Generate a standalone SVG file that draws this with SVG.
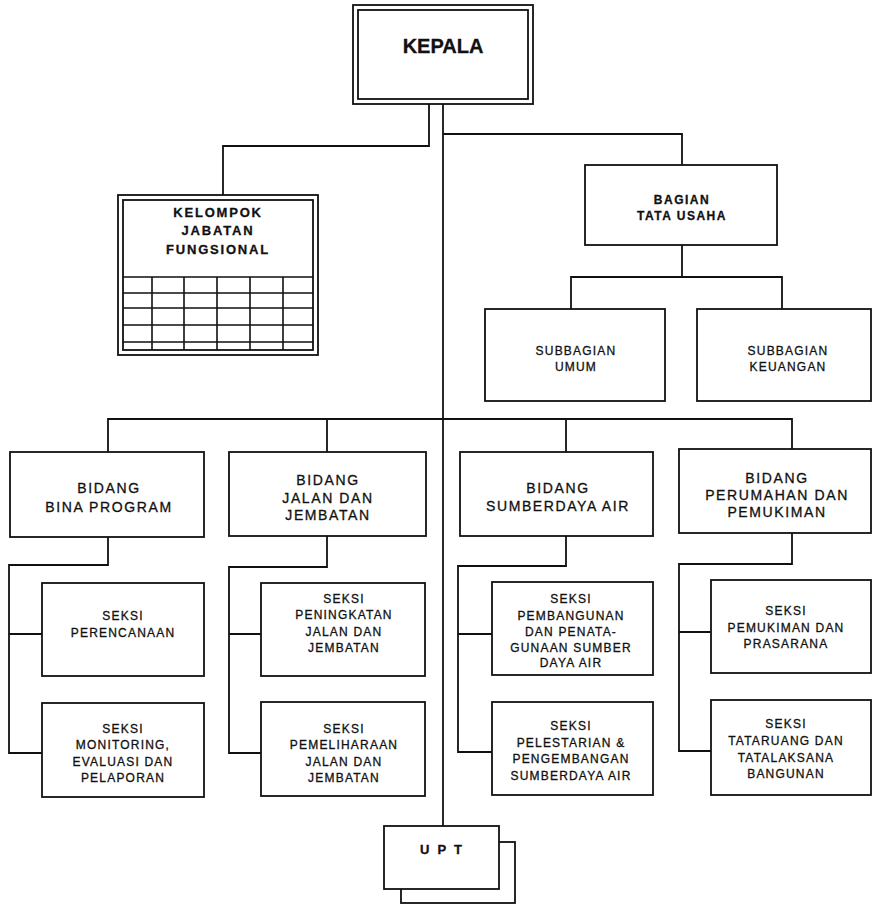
<svg xmlns="http://www.w3.org/2000/svg" width="872" height="904" viewBox="0 0 872 904">
<style>
  .box { fill: #fff; stroke: #111; stroke-width: 1.8; }
  .ln { fill: none; stroke: #111; stroke-width: 1.8; }
  .grid { fill: none; stroke: #111; stroke-width: 1.6; }
  text { font-family: "Liberation Sans", Arial, sans-serif; fill: #111; stroke: #111; stroke-width: 0.3; text-anchor: middle; }
  .k { font-size: 20px; font-weight: bold; }
  .kf { font-size: 13px; font-weight: bold; letter-spacing: 1.8px; }
  .bg { font-size: 12px; font-weight: bold; letter-spacing: 1.5px; }
  .sb { font-size: 12px; letter-spacing: 1.2px; }
  .bd { font-size: 14px; letter-spacing: 1.6px; }
  .sk { font-size: 12px; letter-spacing: 1.2px; }
  .upt { font-size: 13px; font-weight: bold; letter-spacing: 8px; }
</style>
<rect width="872" height="904" fill="#fff"/>

<g id="connectors">
  <path class="ln" d="M429 104 V146 H223 V195"/>
  <path class="ln" d="M443 104 V826"/>
  <path class="ln" d="M443 134 H682 V165"/>
  <path class="ln" d="M682 245 V277 M571 309 V277 H782 V309"/>
  <path class="ln" d="M108 452 V419 H792 V449 M327 419 V452 M566 419 V452"/>
  <path class="ln" d="M108 537 V565 H9 V753 H42 M9 634 H42"/>
  <path class="ln" d="M327 536 V567 H229 V753 H261 M229 634 H261"/>
  <path class="ln" d="M566 536 V566 H458 V752 H492 M458 634 H492"/>
  <path class="ln" d="M792 533 V564 H679 V751 H711 M679 632 H711"/>
</g>

<g id="kepala">
  <rect class="box" x="353" y="5" width="180" height="99"/>
  <rect class="box" x="358" y="10" width="170" height="89"/>
  <text class="k" x="443" y="53">KEPALA</text>
</g>

<g id="kelompok">
  <rect class="box" x="118" y="195" width="200" height="160"/>
  <rect class="box" x="123" y="200" width="190" height="150"/>
  <path class="grid" d="M123 277 H313 M123 293 H313 M123 308 H313 M123 325 H313 M123 342 H313 M152 277 V350 M184 277 V350 M217 277 V350 M250 277 V350 M283 277 V350"/>
  <text class="kf" x="218" y="217">KELOMPOK</text>
  <text class="kf" x="218" y="235">JABATAN</text>
  <text class="kf" x="218" y="254">FUNGSIONAL</text>
</g>

<g id="tata-usaha">
  <rect class="box" x="585" y="165" width="192" height="80"/>
  <text class="bg" x="682" y="204">BAGIAN</text>
  <text class="bg" x="682" y="220">TATA USAHA</text>
</g>

<g id="sub-umum">
  <rect class="box" x="485" y="309" width="180" height="92"/>
  <text class="sb" x="576" y="355">SUBBAGIAN</text>
  <text class="sb" x="576" y="371">UMUM</text>
</g>

<g id="sub-keuangan">
  <rect class="box" x="697" y="309" width="174" height="92"/>
  <text class="sb" x="788" y="355">SUBBAGIAN</text>
  <text class="sb" x="788" y="371">KEUANGAN</text>
</g>

<g id="bidang-bina">
  <rect class="box" x="10" y="452" width="194" height="85"/>
  <text class="bd" x="109" y="493">BIDANG</text>
  <text class="bd" x="109" y="512">BINA PROGRAM</text>
</g>

<g id="bidang-jalan">
  <rect class="box" x="229" y="452" width="197" height="84"/>
  <text class="bd" x="328" y="485">BIDANG</text>
  <text class="bd" x="328" y="503">JALAN DAN</text>
  <text class="bd" x="328" y="520">JEMBATAN</text>
</g>

<g id="bidang-air">
  <rect class="box" x="460" y="452" width="193" height="84"/>
  <text class="bd" x="558" y="493">BIDANG</text>
  <text class="bd" x="558" y="511">SUMBERDAYA  AIR</text>
</g>

<g id="bidang-perumahan">
  <rect class="box" x="679" y="449" width="192" height="84"/>
  <text class="bd" x="777" y="483">BIDANG</text>
  <text class="bd" x="777" y="500">PERUMAHAN DAN</text>
  <text class="bd" x="777" y="517">PEMUKIMAN</text>
</g>

<g id="seksi-perencanaan">
  <rect class="box" x="42" y="583" width="162" height="93"/>
  <text class="sk" x="123" y="620">SEKSI</text>
  <text class="sk" x="123" y="637">PERENCANAAN</text>
</g>

<g id="seksi-monitoring">
  <rect class="box" x="42" y="703" width="162" height="94"/>
  <text class="sk" x="123" y="733">SEKSI</text>
  <text class="sk" x="123" y="749">MONITORING,</text>
  <text class="sk" x="123" y="766">EVALUASI DAN</text>
  <text class="sk" x="123" y="782">PELAPORAN</text>
</g>

<g id="seksi-peningkatan">
  <rect class="box" x="261" y="583" width="164" height="93"/>
  <text class="sk" x="344" y="603">SEKSI</text>
  <text class="sk" x="344" y="619">PENINGKATAN</text>
  <text class="sk" x="344" y="636">JALAN DAN</text>
  <text class="sk" x="344" y="652">JEMBATAN</text>
</g>

<g id="seksi-pemeliharaan">
  <rect class="box" x="261" y="702" width="164" height="94"/>
  <text class="sk" x="344" y="733">SEKSI</text>
  <text class="sk" x="344" y="749">PEMELIHARAAN</text>
  <text class="sk" x="344" y="766">JALAN DAN</text>
  <text class="sk" x="344" y="782">JEMBATAN</text>
</g>

<g id="seksi-pembangunan">
  <rect class="box" x="492" y="582" width="161" height="93"/>
  <text class="sk" x="571" y="603">SEKSI</text>
  <text class="sk" x="571" y="620">PEMBANGUNAN</text>
  <text class="sk" x="571" y="636">DAN PENATA-</text>
  <text class="sk" x="571" y="652">GUNAAN SUMBER</text>
  <text class="sk" x="571" y="667">DAYA  AIR</text>
</g>

<g id="seksi-pelestarian">
  <rect class="box" x="492" y="702" width="161" height="93"/>
  <text class="sk" x="571" y="730">SEKSI</text>
  <text class="sk" x="571" y="747">PELESTARIAN &amp;</text>
  <text class="sk" x="571" y="763">PENGEMBANGAN</text>
  <text class="sk" x="571" y="780">SUMBERDAYA  AIR</text>
</g>

<g id="seksi-pemukiman">
  <rect class="box" x="711" y="580" width="160" height="93"/>
  <text class="sk" x="786" y="615">SEKSI</text>
  <text class="sk" x="786" y="632">PEMUKIMAN DAN</text>
  <text class="sk" x="786" y="648">PRASARANA</text>
</g>

<g id="seksi-tataruang">
  <rect class="box" x="711" y="700" width="160" height="95"/>
  <text class="sk" x="786" y="728">SEKSI</text>
  <text class="sk" x="786" y="745">TATARUANG DAN</text>
  <text class="sk" x="786" y="762">TATALAKSANA</text>
  <text class="sk" x="786" y="778">BANGUNAN</text>
</g>

<g id="upt">
  <rect class="box" x="401" y="842" width="114" height="61"/>
  <rect class="box" x="384" y="826" width="115" height="63"/>
  <text class="upt" x="445" y="854">UPT</text>
</g>
</svg>
